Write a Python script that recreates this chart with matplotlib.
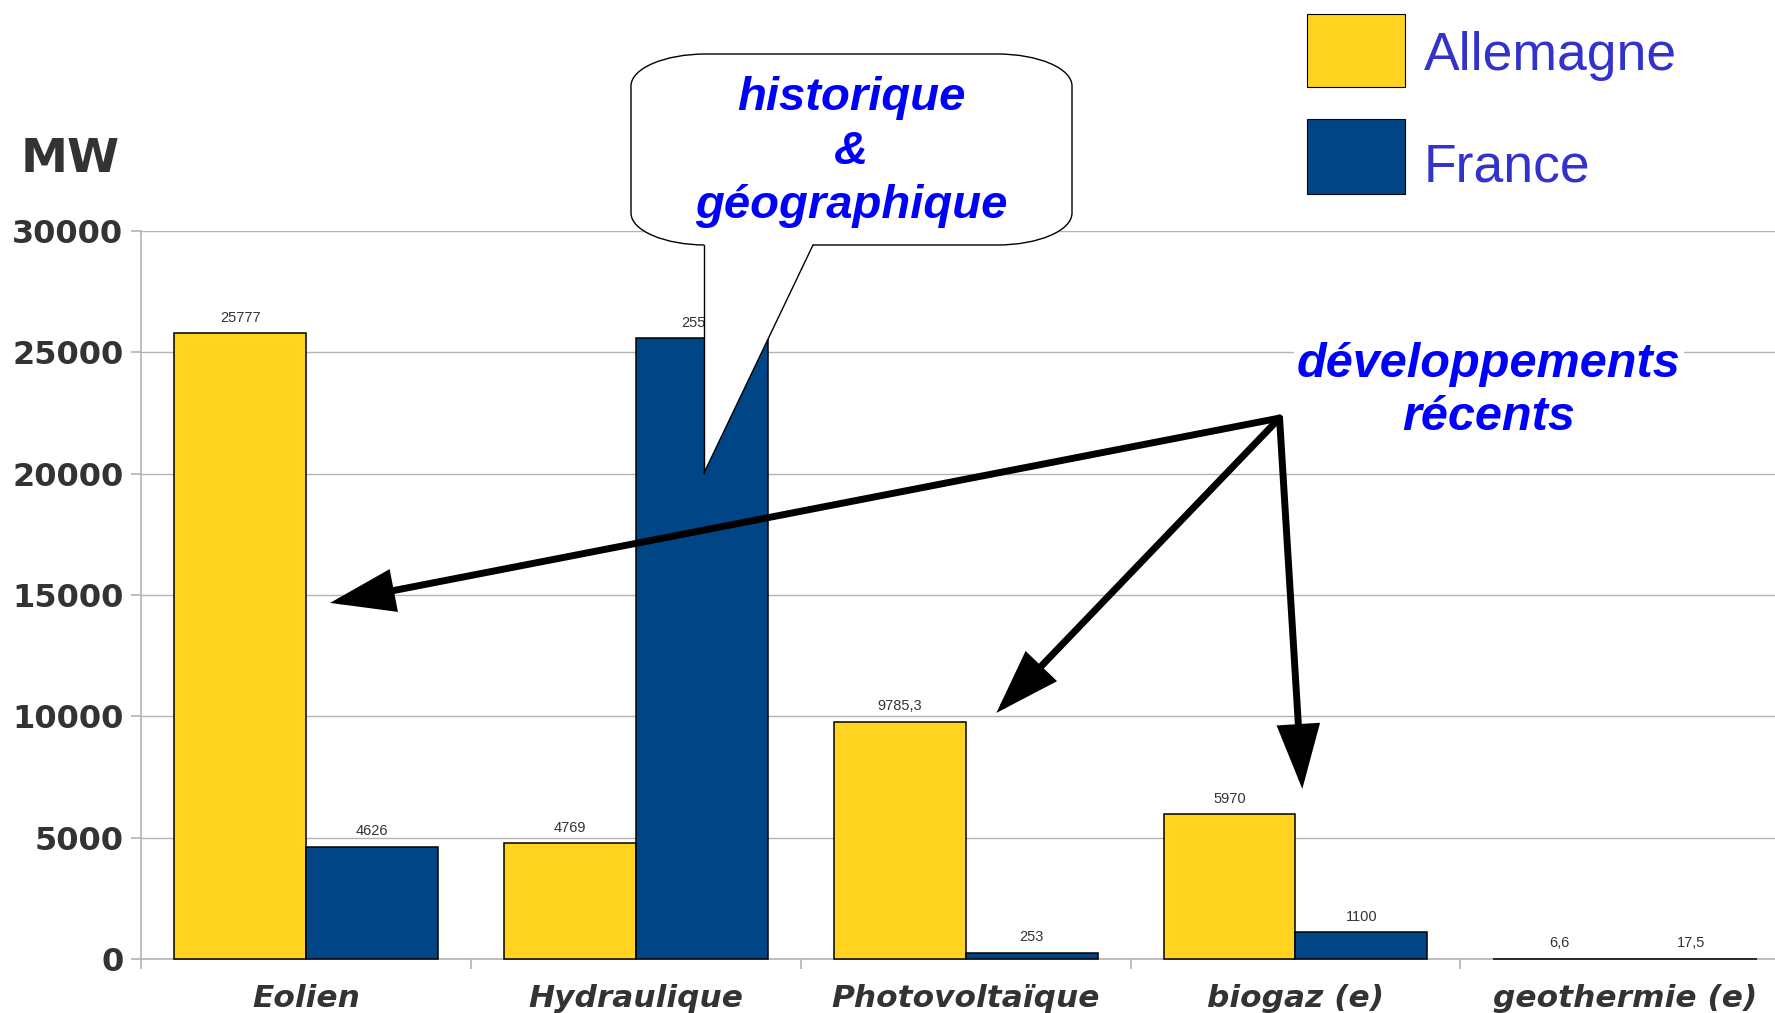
import numpy as np
import matplotlib
matplotlib.use('Agg')
from matplotlib import pyplot as plt
from matplotlib.patches import PathPatch, Polygon, FancyArrowPatch, Rectangle
from matplotlib.path import Path
from matplotlib.transforms import Affine2D

# data
categories = ['Eolien', 'Hydraulique', 'Photovoltaïque', 'biogaz (e)', 'geothermie (e)']
allemagne = [25777, 4769, 9785.3, 5970, 6.6]
france = [4626, 25580, 253, 1100, 17.5]
labels_all = ['25777', '4769', '9785,3', '5970', '6,6']
labels_fra = ['4626', '25580', '253', '1100', '17,5']

yellow = '#ffd320'
blue = '#004586'
dark = '#333333'
grid_c = '#b3b3b3'

fig = plt.figure(figsize=(17.75, 10.13), dpi=100)
ax = fig.add_axes([0.0797, 0.0533, 0.9287, 0.7187])
# pixel coords (origin top-left) -> figure
px = Affine2D().scale(1 / 1775, -1 / 1013).translate(0, 1) + fig.transFigure

x = np.arange(len(categories))
w = 0.4
b1 = ax.bar(x - w / 2, allemagne, w, color=yellow, edgecolor='black', linewidth=1.1, zorder=3)
b2 = ax.bar(x + w / 2, france, w, color=blue, edgecolor='black', linewidth=1.1, zorder=3)
for b in list(b1) + list(b2):
    b.set_clip_on(False)

for i in range(len(categories)):
    ax.text(x[i] - w / 2, allemagne[i] + 350, labels_all[i], ha='center', va='bottom',
            fontsize=10.5, color=dark, family='Liberation Sans', zorder=4)
    ax.text(x[i] + w / 2, france[i] + 350, labels_fra[i], ha='center', va='bottom',
            fontsize=10.5, color=dark, family='Liberation Sans', zorder=4)

ax.set_xlim(-0.5, 4.5)
ax.set_ylim(0, 30000)
ax.set_yticks(np.arange(0, 30001, 5000))
ax.set_yticklabels([str(v) for v in range(0, 30001, 5000)], fontsize=23,
                   fontweight='bold', color=dark, family='DejaVu Sans')
ax.set_xticks(x)
ax.set_xticklabels(categories, fontsize=22.5, fontweight='bold', style='italic',
                   color=dark, family='DejaVu Sans')
ax.set_xticks(np.arange(-0.5, 5, 1), minor=True)
ax.tick_params(axis='x', which='major', length=0, pad=18)
ax.tick_params(axis='x', which='minor', length=7, color=grid_c, width=1.2)
ax.tick_params(axis='y', length=7, color=grid_c, width=1.2, pad=6)
ax.grid(axis='y', color=grid_c, linewidth=1, zorder=0)
for s in ['top', 'right']:
    ax.spines[s].set_visible(False)
for s in ['left', 'bottom']:
    ax.spines[s].set_color(grid_c)
    ax.spines[s].set_linewidth(1.2)

fig.text(70, 160, 'MW', fontsize=34, fontweight='bold', color=dark,
         ha='center', va='center', family='DejaVu Sans', transform=px)

# legend
fig.patches.append(Rectangle((1307, 14), 98, 73, transform=px, facecolor=yellow,
                             edgecolor='black', linewidth=0.8))
fig.patches.append(Rectangle((1307, 119), 98, 75, transform=px, facecolor=blue,
                             edgecolor='black', linewidth=0.8))
fig.text(1424, 56, 'Allemagne', fontsize=38.5, color='#3333cc', va='center', ha='left',
         family='Liberation Sans', transform=px)
fig.text(1424, 167, 'France', fontsize=38.5, color='#3333cc', va='center', ha='left',
         family='Liberation Sans', transform=px)

# callout bubble (elliptical corners)
x0, x1, y0, y1 = 631, 1072, 54, 245
rx, ry = 75, 32
k = 0.5523
verts = [
    (x0 + rx, y0),
    (x1 - rx, y0),
    (x1 - rx + k * rx, y0), (x1, y0 + ry - k * ry), (x1, y0 + ry),
    (x1, y1 - ry),
    (x1, y1 - ry + k * ry), (x1 - rx + k * rx, y1), (x1 - rx, y1),
    (x0 + rx, y1),
    (x0 + rx - k * rx, y1), (x0, y1 - ry + k * ry), (x0, y1 - ry),
    (x0, y0 + ry),
    (x0, y0 + ry - k * ry), (x0 + rx - k * rx, y0), (x0 + rx, y0),
    (x0 + rx, y0),
]
codes = [Path.MOVETO, Path.LINETO, Path.CURVE4, Path.CURVE4, Path.CURVE4, Path.LINETO,
         Path.CURVE4, Path.CURVE4, Path.CURVE4, Path.LINETO, Path.CURVE4, Path.CURVE4,
         Path.CURVE4, Path.LINETO, Path.CURVE4, Path.CURVE4, Path.CURVE4, Path.CLOSEPOLY]
fig.patches.append(PathPatch(Path(verts, codes), transform=px, facecolor='white',
                             edgecolor='black', linewidth=1, zorder=10))
tail = [(704, 240), (813, 240), (813, 245.5), (704, 473), (704, 245.5)]
fig.patches.append(Polygon(tail, closed=True, transform=px, facecolor='white',
                           edgecolor='none', zorder=11))
fig.lines.append(plt.Line2D([704, 704], [245, 473], transform=px, color='black',
                            lw=1, zorder=12))
fig.lines.append(plt.Line2D([813, 704], [245, 473], transform=px, color='black',
                            lw=1, zorder=12))
fig.text(851, 152, 'historique\n&\ngéographique', fontsize=34, fontweight='bold',
         style='italic', color='#0000ff', ha='center', va='center', linespacing=1.3,
         family='Liberation Sans', zorder=13, transform=px)

# developpements recents
fig.text(1489, 391, 'développements\nrécents', fontsize=35, fontweight='bold',
         style='italic', color='#0000ff', ha='center', va='center', linespacing=1.25,
         family='Liberation Sans', zorder=13, transform=px,
         bbox=dict(facecolor='white', edgecolor='none', pad=2))

origin = (2.952, 22290)
targets = [(0.072, 14673), (2.093, 10140), (3.021, 7009)]
for t in targets:
    arr = FancyArrowPatch(origin, t, arrowstyle='-|>,head_length=1.4,head_width=0.47',
                          mutation_scale=26, color='black', lw=5, zorder=9,
                          shrinkA=0, shrinkB=0, clip_on=False, joinstyle='miter')
    ax.add_patch(arr)

fig.savefig('out.png', dpi=100)
